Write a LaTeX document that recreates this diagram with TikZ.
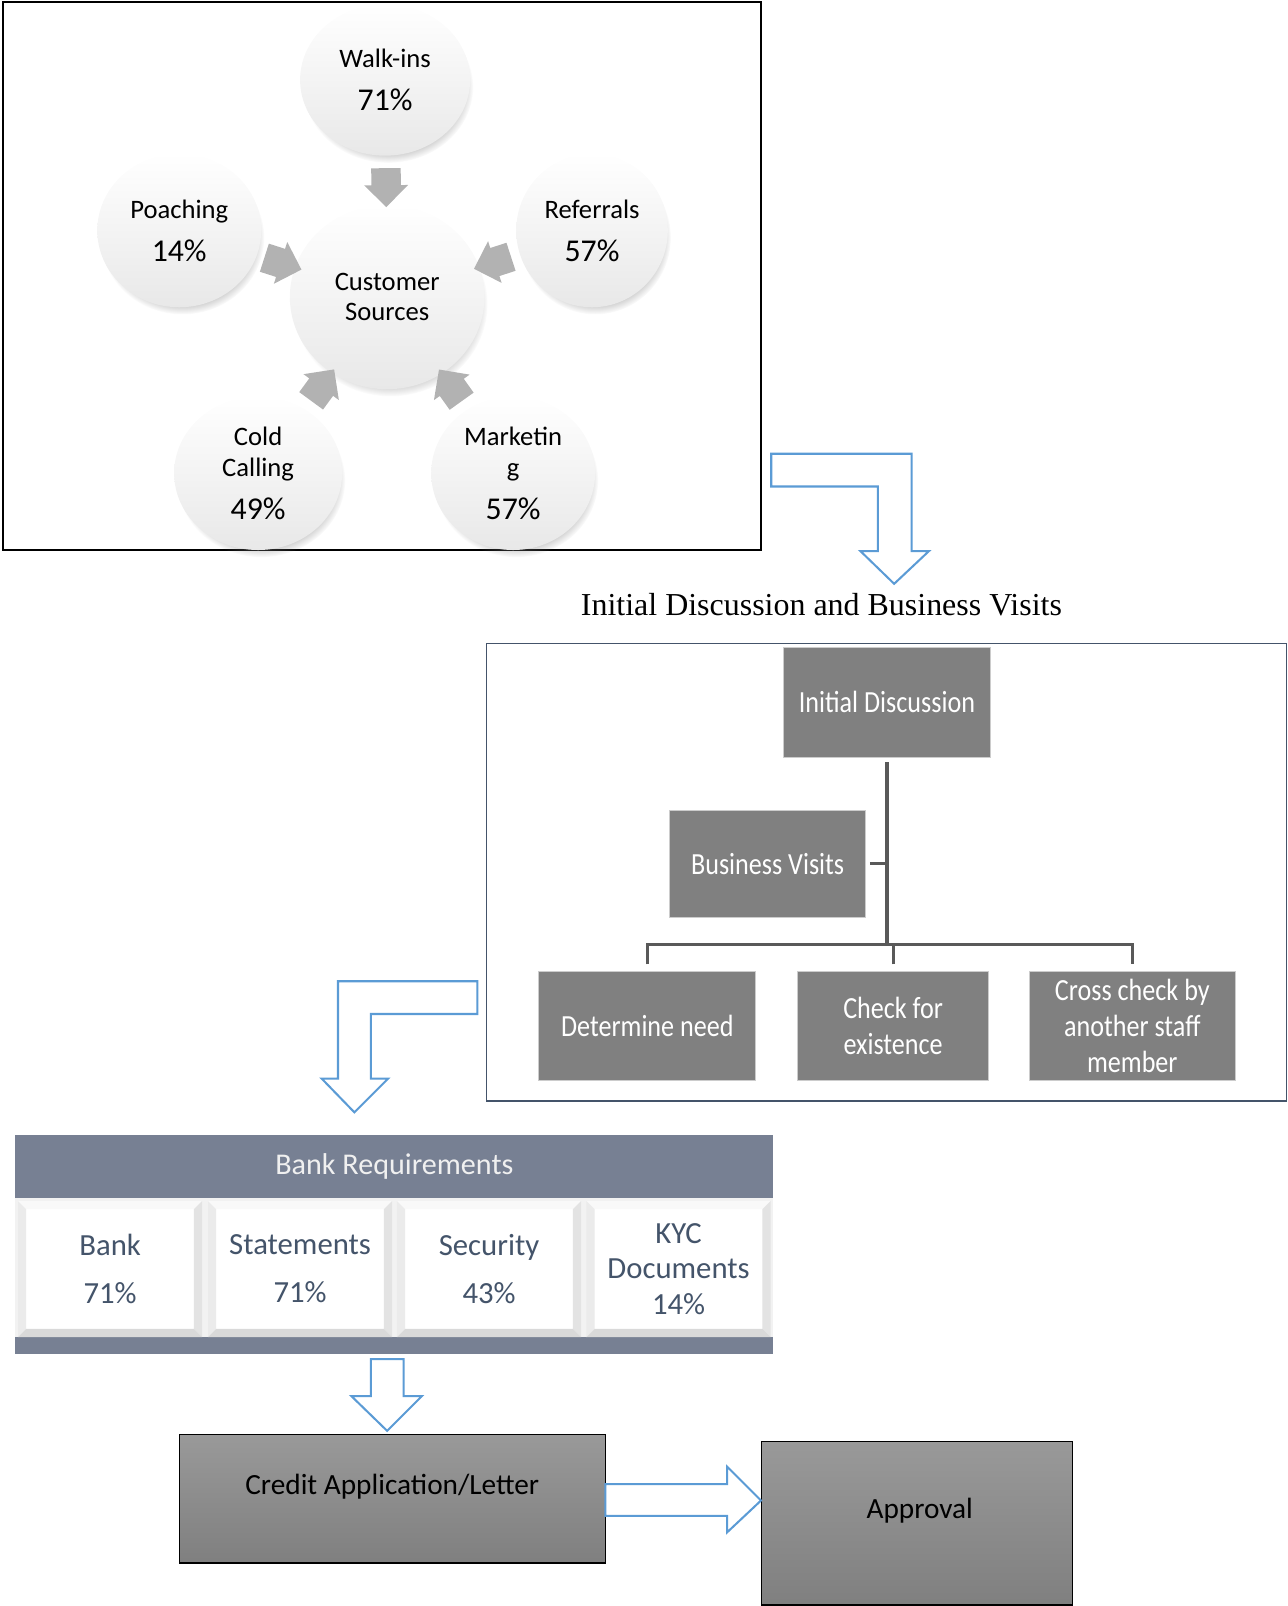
\documentclass[tikz,border=0pt]{standalone}
\usepackage{fontspec}
\setmainfont{Carlito}
\newfontfamily\titlefont{Liberation Serif}
\newfontfamily\orgfont[FakeStretch=0.85]{Carlito}
\usetikzlibrary{shapes.geometric,shapes.arrows,shadows,fadings}

\definecolor{arrowblue}{RGB}{91,155,213}
\definecolor{slatebar}{RGB}{119,128,147}
\definecolor{slatetext}{RGB}{68,84,106}
\definecolor{linegray}{RGB}{89,89,89}
\definecolor{framegray}{RGB}{68,84,106}

\newcommand\share[1]{\\[6pt]{\fontsize{15.5}{15}\selectfont #1}}

\tikzset{
	source/.style={ellipse, inner sep=0pt, align=center, top color=white, middle color=white, bottom color=gray!18,
		circular drop shadow={shadow scale=1, shadow xshift=1.5pt, shadow yshift=-3.5pt, opacity=0.45},
		font=\fontsize{13}{15}\selectfont},
	feeder/.style={single arrow, fill=gray!60, draw=none, inner xsep=0pt, inner ysep=7pt,
		minimum height=19pt, single arrow head extend=3.5pt, sloped, allow upside down},
	orgbox/.style={fill=gray, draw=gray!40, text=white, align=center,
		font=\orgfont\fontsize{15}{17.5}\selectfont},
	orglink/.style={draw=linegray, line width=1.5pt},
	hollow/.style={draw=arrowblue, line width=1pt, fill=white, line join=miter},
	reqcell/.style={fill=white, text=slatetext, align=center, inner sep=0pt,
		minimum width=89.5pt, minimum height=66pt, font=\fontsize{15}{17.5}\selectfont},
	docbox/.style={draw=black, line width=0.5pt, top color=gray!80, bottom color=gray,
		font=\fontsize{14.3}{17}\selectfont, text height=10pt, text depth=14pt}
}

\begin{document}
\begin{tikzpicture}[x=0.5pt, y=-0.5pt]
	\useasboundingbox (0,0) rectangle (1257,1568);

	% customer sources
	\draw[line width=0.8pt] (3,2) rectangle (743,537);
	\node[source, minimum width=95pt, minimum height=90pt] (cust) at (378,290) {Customer\\Sources};
	\node[source, minimum width=83pt, minimum height=74pt] (walk) at (376,78) {Walk-ins\share{71\%}};
	\node[source, minimum width=80pt, minimum height=75pt] (poach) at (175,225) {Poaching\share{14\%}};
	\node[source, minimum width=74pt, minimum height=75pt] (refer) at (578,225) {Referrals\share{57\%}};
	\node[source, minimum width=82pt, minimum height=75pt] (cold) at (252,462) {Cold\\Calling\share{49\%}};
	\node[source, minimum width=80pt, minimum height=75pt] (market) at (501,462) {Marketin\\g\share{57\%}};
	\foreach \s in {walk,poach,refer,cold,market} {
		\path (\s) -- (cust) node[feeder, midway] (arr-\s) {};
	}

	\draw[hollow] (753,443) -- (890,443) -- (890,538) -- (907,538) -- (873,570) -- (840,538)
		-- (857,538) -- (857,475) -- (753,475) -- cycle;

	% discussion and visits
	\node[font=\titlefont\fontsize{15.6}{18}\selectfont] (ttl) at (802,590) {Initial Discussion and Business Visits};
	\draw[framegray, line width=0.6pt] (475,628) rectangle (1256,1075);
	\node[orgbox, minimum width=101pt, minimum height=53.5pt] (init) at (866,685.5) {Initial Discussion};
	\node[orgbox, minimum width=95.5pt, minimum height=52.5pt] (visit) at (749.5,843.5) {Business Visits};
	\node[orgbox, minimum width=106pt, minimum height=53.5pt] (need) at (632,1001.5) {Determine need};
	\node[orgbox, minimum width=93pt, minimum height=53.5pt] (check) at (872,1001.5) {Check for\\existence};
	\node[orgbox, minimum width=100.5pt, minimum height=53.5pt] (cross) at (1105.5,1001.5) {Cross check by\\another staff\\member};
	\coordinate (hub) at (866,922);
	\draw[orglink] ([yshift=-2.5pt]init.south) -- (hub);
	\draw[orglink] ([xshift=2pt]visit.east) -- (visit.east -| hub);
	\draw[orglink] ([yshift=3pt]need.north) |- (hub) -| ([yshift=3pt]cross.north);
	\draw[orglink] ([yshift=3pt]check.north) -- (check.north |- hub);

	\draw[hollow] (466,958) -- (330,958) -- (330,1053) -- (314,1053) -- (346,1086) -- (379,1053)
		-- (362,1053) -- (362,990) -- (466,990) -- cycle;

	% bank requirements
	\fill[gray!10] (15,1170) rectangle (755,1305);
	\node[fill=slatebar, minimum width=370pt, minimum height=31pt, inner sep=0pt, text=gray!12,
		font=\fontsize{14.7}{17}\selectfont] (reqhead) at (385,1139) {Bank Requirements};
	\fill[slatebar] (15,1305) rectangle (755,1322);
	\node[reqcell] (bank) at (107.5,1239) {Bank\\[6pt]71\%};
	\node[reqcell] (stmt) at (293,1239) {Statements\\[6pt]71\%};
	\node[reqcell] (sec) at (477.5,1239) {Security\\[6pt]43\%};
	\node[reqcell] (kyc) at (662.5,1239) {KYC\\Documents\\14\%};
	\foreach \c in {bank,stmt,sec,kyc} {
		\fill[gray!5] (\c.north west) -- (\c.north east) -- ([shift={(-4pt,-4pt)}]\c.north east)
			-- ([shift={(4pt,-4pt)}]\c.north west) -- cycle;
		\fill[gray!16] (\c.north west) -- (\c.south west) -- ([shift={(4pt,4pt)}]\c.south west)
			-- ([shift={(4pt,-4pt)}]\c.north west) -- cycle;
		\fill[gray!22] (\c.north east) -- (\c.south east) -- ([shift={(-4pt,4pt)}]\c.south east)
			-- ([shift={(-4pt,-4pt)}]\c.north east) -- cycle;
		\fill[gray!30] (\c.south west) -- (\c.south east) -- ([shift={(-4pt,4pt)}]\c.south east)
			-- ([shift={(4pt,4pt)}]\c.south west) -- cycle;
	}

	\draw[hollow] (362,1327) -- (394,1327) -- (394,1363) -- (412,1363) -- (378,1397) -- (343,1363)
		-- (362,1363) -- cycle;

	% application and approval
	\node[docbox, minimum width=208pt, minimum height=62.5pt] (credit) at (383,1463.5) {Credit Application/Letter};
	\node[docbox, minimum width=152pt, minimum height=80pt] (approve) at (895,1487) {\hspace*{3pt}Approval};
	\draw[hollow] (591,1449) -- (710,1449) -- (710,1432) -- (743,1465) -- (710,1496) -- (710,1480)
		-- (591,1480) -- cycle;
\end{tikzpicture}
\end{document}
